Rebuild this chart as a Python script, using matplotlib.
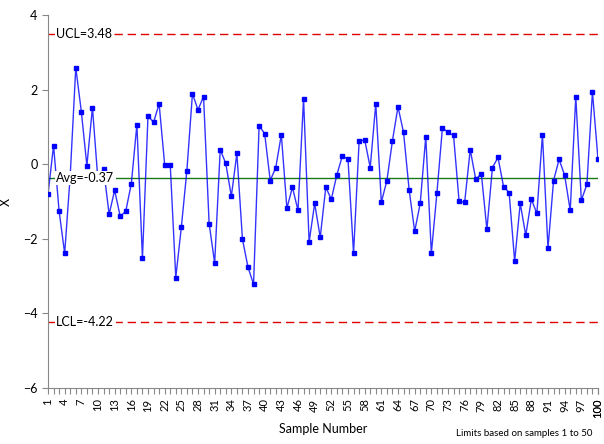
"""X 控制图 (individuals chart) 复刻"""
import numpy as np
import matplotlib.pyplot as plt
from matplotlib.ticker import FixedLocator, MultipleLocator

# 样本编号与测量值
samples = list(range(1, 101))
values = [
    -0.81, 0.50, -1.26, -2.39, -0.30, 2.59, 1.41, -0.04, 1.52, -0.45,
    -0.12, -1.34, -0.70, -1.40, -1.26, -0.52, 1.06, -2.52, 1.30, 1.12,
    1.62, -0.01, -0.01, -3.04, -1.69, -0.17, 1.89, 1.46, 1.81, -1.59,
    -2.65, 0.39, 0.02, -0.86, 0.29, -2.01, -2.76, -3.22, 1.03, 0.82,
    -0.44, -0.09, 0.79, -1.18, -0.62, -1.24, 1.76, -2.09, -1.05, -1.96,
    -0.62, -0.94, -0.28, 0.23, 0.13, -2.39, 0.61, 0.66, -0.09, 1.62,
    -1.02, -0.44, 0.63, 1.54, 0.85, -0.68, -1.80, -1.05, 0.74, -2.39,
    -0.78, 0.98, 0.85, 0.77, -1.00, -1.02, 0.39, -0.41, -0.25, -1.75,
    -0.09, 0.18, -0.60, -0.76, -2.60, -1.05, -1.91, -0.94, -1.32, 0.79,
    -2.25, -0.44, 0.13, -0.30, -1.24, 1.81, -0.97, -0.54, 1.94, 0.13,
]
ucl = 3.48
avg = -0.37
lcl = -4.22

plt.rcParams['font.family'] = ['Lato', 'DejaVu Sans']
plt.rcParams['font.size'] = 9

fig = plt.figure(figsize=(6.04, 4.44), dpi=100)
ax = fig.add_axes([48 / 604, 1 - 388 / 444, 550 / 604, 373 / 444])

# 控制限
ax.axhline(ucl, color='#e00000', lw=1.0, ls=(0, (6, 3.5)), zorder=1)
ax.axhline(lcl, color='#e00000', lw=1.0, ls=(0, (6, 3.5)), zorder=1)
ax.axhline(avg, color='#1a7a1a', lw=1.0, zorder=1)

# 数据
ax.plot(samples, values, color='#0000ff', lw=1, alpha=0.8, zorder=2)
ax.plot(samples, values, ls='none', marker='s', ms=3.2, color='#0000ff', zorder=3)

box = dict(facecolor='white', edgecolor='none', pad=1)
ax.text(2.5, ucl, 'UCL=3.48', ha='left', va='center', fontsize=9, bbox=box, zorder=4)
ax.text(2.5, avg, 'Avg=-0.37', ha='left', va='center', fontsize=9, bbox=box, zorder=4)
ax.text(2.5, lcl, 'LCL=-4.22', ha='left', va='center', fontsize=9, bbox=box, zorder=4)

ax.set_xlim(1, 100)
ax.set_ylim(-6, 4)
ax.set_yticks([-6, -4, -2, 0, 2, 4])
ax.xaxis.set_major_locator(FixedLocator(list(range(1, 101, 3)) + [100]))
ax.xaxis.set_minor_locator(MultipleLocator(1))
ax.set_xticklabels([str(i) for i in list(range(1, 101, 3)) + [100]], rotation=90, fontsize=8)

for s in ['top', 'right']:
    ax.spines[s].set_visible(False)
for s in ['left', 'bottom']:
    ax.spines[s].set_color('#888888')
ax.tick_params(axis='both', colors='#888888', labelcolor='black', length=4, width=0.8)
ax.tick_params(axis='x', which='minor', colors='#888888', length=4, width=0.8)

ax.set_ylabel('X', fontsize=9, labelpad=8)
ax.set_xlabel('Sample Number', fontsize=9, labelpad=4)
fig.text(0.98, 1 - 433 / 444, 'Limits based on samples 1 to 50', ha='right', va='center', fontsize=7)

fig.savefig('out.png', dpi=100)
